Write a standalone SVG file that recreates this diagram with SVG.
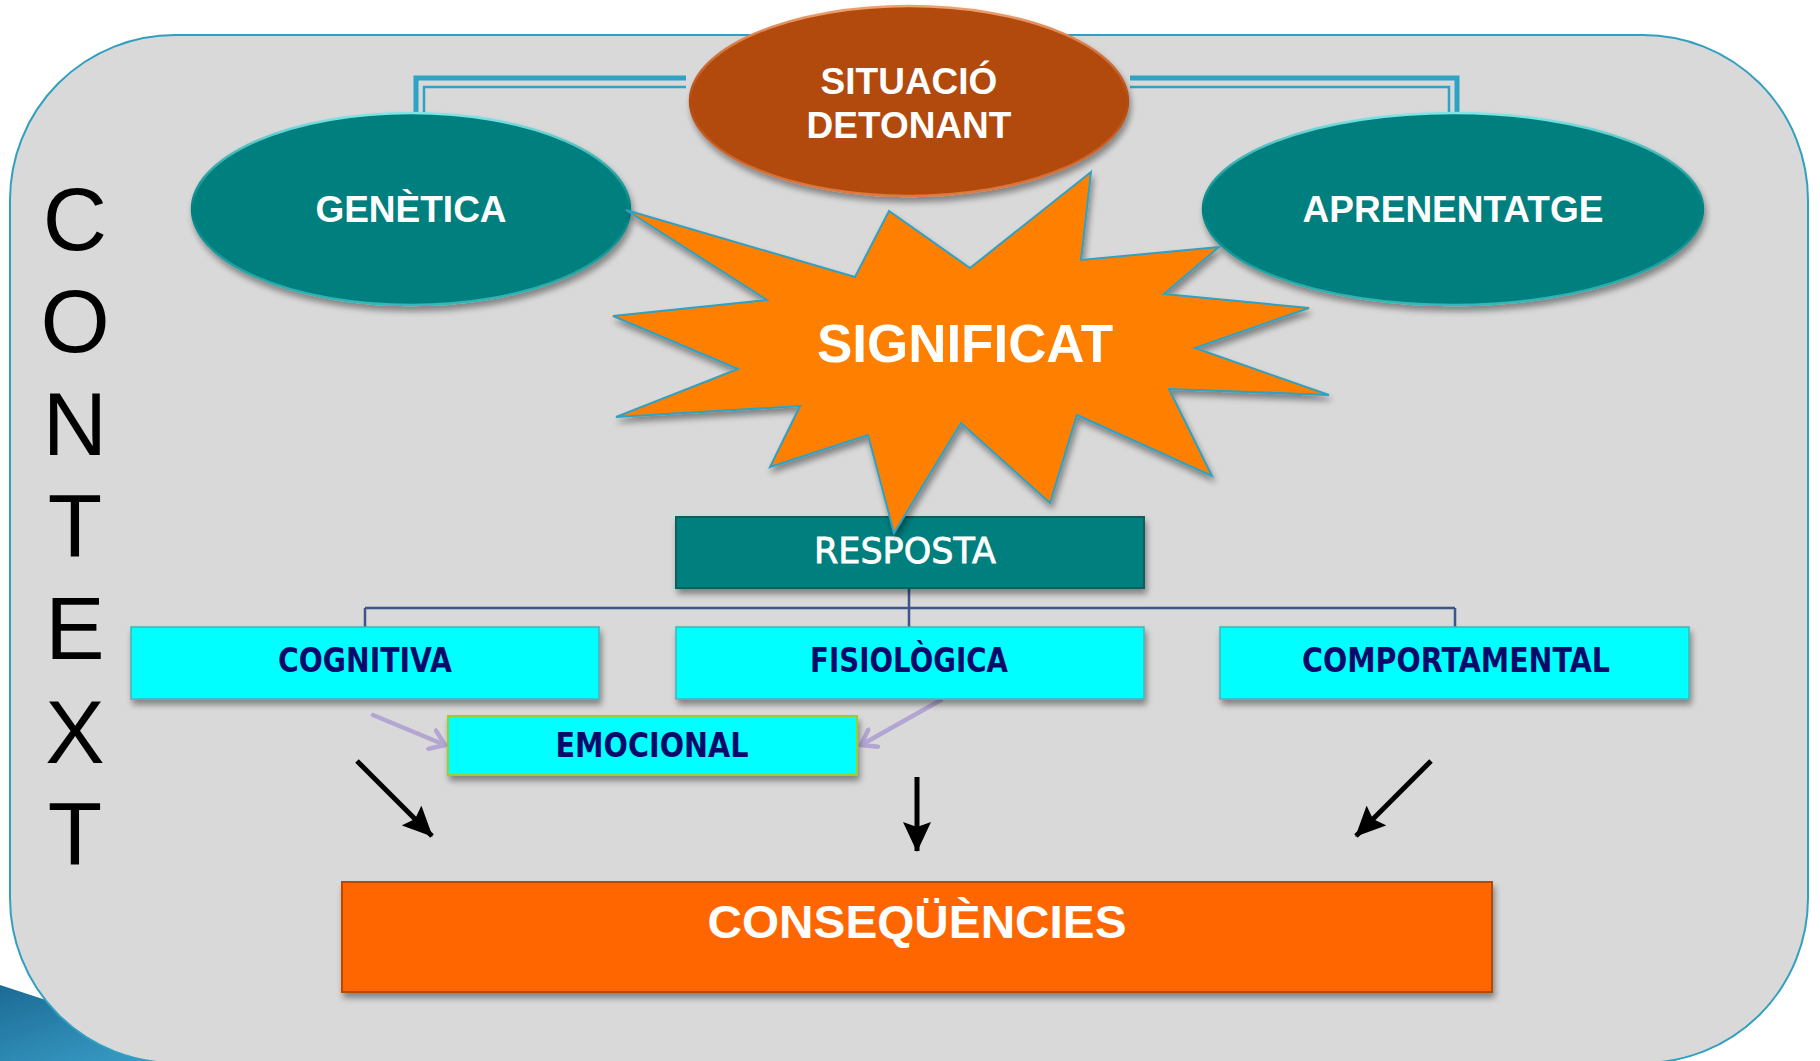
<svg xmlns="http://www.w3.org/2000/svg" width="1820" height="1061" viewBox="0 0 1820 1061">
<defs>
<style>
.ctx{font-family:"Liberation Sans",Arial,sans-serif;font-size:89px;fill:#000;text-anchor:middle}
.ell{font-family:"Liberation Sans",Arial,sans-serif;font-weight:bold;font-size:37px;fill:#fff;text-anchor:middle}
.box{font-family:"DejaVu Sans",sans-serif;font-weight:bold;font-size:33px;fill:#0a0a6b;text-anchor:middle}
.cyan{fill:#00ffff;stroke:#4ab0b8;stroke-width:1.5}
.dbl{fill:none;stroke:#2fa3c4;stroke-linejoin:miter}
.tree{fill:none;stroke:#3b5688;stroke-width:2.5}
.blk{stroke:#000;stroke-width:5;fill:none}
.lav{stroke:#b3a6d3;stroke-width:4.5;fill:none;stroke-linecap:round}
</style>
<filter id="sh" x="-10%" y="-15%" width="125%" height="145%">
<feGaussianBlur in="SourceAlpha" stdDeviation="3"/>
<feOffset dx="2" dy="5" result="o"/>
<feComponentTransfer><feFuncA type="linear" slope="0.4"/></feComponentTransfer>
<feMerge><feMergeNode/><feMergeNode in="SourceGraphic"/></feMerge>
</filter>
<linearGradient id="rimT" x1="0" y1="0" x2="0" y2="1">
<stop offset="0" stop-color="#7fe6e6"/><stop offset="0.5" stop-color="#007f7f"/><stop offset="1" stop-color="#35b8b8"/>
</linearGradient>
<linearGradient id="rimB" x1="0" y1="0" x2="0" y2="1">
<stop offset="0" stop-color="#f0a070"/><stop offset="0.5" stop-color="#b24a10"/><stop offset="1" stop-color="#e07a40"/>
</linearGradient>
<linearGradient id="deco" x1="0" y1="0" x2="1" y2="1">
<stop offset="0" stop-color="#1b6b95"/><stop offset="1" stop-color="#3fa6cf"/>
</linearGradient>
<marker id="ah" markerUnits="userSpaceOnUse" markerWidth="30" markerHeight="28" viewBox="0 0 30 28" refX="29" refY="14" orient="auto">
<path d="M0,0 L30,14 L0,28 L5,14 Z" fill="#000"/>
</marker>
<marker id="ahl" markerUnits="userSpaceOnUse" markerWidth="20" markerHeight="24" viewBox="0 0 20 24" refX="16" refY="12" orient="auto">
<path d="M2,2 L16,12 L2,22" fill="none" stroke="#b3a6d3" stroke-width="4.5" stroke-linecap="round" stroke-linejoin="round"/>
</marker>
</defs>

<rect x="0" y="0" width="1820" height="1061" fill="#ffffff"/>
<path d="M0,985 L55,1003 L230,1061 L0,1061 Z" fill="url(#deco)"/>
<rect id="context-frame" x="10" y="35" width="1798" height="1028" rx="165" ry="165" fill="#d9d9d9" stroke="#31a0c0" stroke-width="2"/>

<g id="context-label">
<text class="ctx" x="75" y="250">C</text>
<text class="ctx" x="75" y="352">O</text>
<text class="ctx" x="75" y="455">N</text>
<text class="ctx" x="75" y="557">T</text>
<text class="ctx" x="75" y="659">E</text>
<text class="ctx" x="75" y="763">X</text>
<text class="ctx" x="75" y="865">T</text>
</g>

<g id="connectors">
<path class="dbl" stroke-width="5" d="M686,78 L416,78 L416,140"/>
<path class="dbl" stroke-width="2.5" d="M686,87 L424,87 L424,140"/>
<path class="dbl" stroke-width="5" d="M1130,78 L1457,78 L1457,140"/>
<path class="dbl" stroke-width="2.5" d="M1130,87 L1449,87 L1449,140"/>
<path class="tree" d="M909,588 L909,627 M365,608 L1455,608 M365,608 L365,627 M1455,608 L1455,627"/>
<path class="lav" d="M373,715 L445,745" marker-end="url(#ahl)"/>
<path class="lav" d="M941,700 L861,745" marker-end="url(#ahl)"/>
<path class="blk" d="M357,761 L432,836" marker-end="url(#ah)"/>
<path class="blk" d="M917,777 L917,851" marker-end="url(#ah)"/>
<path class="blk" d="M1431,761 L1356,836" marker-end="url(#ah)"/>
</g>

<g id="genetica">
<ellipse cx="411" cy="209" rx="219" ry="96" fill="#007f7f" stroke="url(#rimT)" stroke-width="2.5" filter="url(#sh)"/>
<text class="ell" x="411" y="222">GENÈTICA</text>
</g>

<g id="aprenentatge">
<ellipse cx="1453" cy="209" rx="250" ry="96" fill="#007f7f" stroke="url(#rimT)" stroke-width="2.5" filter="url(#sh)"/>
<text class="ell" x="1453" y="222">APRENENTATGE</text>
</g>

<g id="situacio-detonant">
<ellipse cx="909" cy="101" rx="219" ry="95" fill="#b24a10" stroke="url(#rimB)" stroke-width="2.5" filter="url(#sh)"/>
<text class="ell" x="909" y="94">SITUACIÓ</text>
<text class="ell" x="909" y="138">DETONANT</text>
</g>

<g id="resposta">
<rect x="676" y="517" width="468" height="71" fill="#007f7f" stroke="#0a5e5e" stroke-width="2" filter="url(#sh)"/>
<text x="905" y="563" style="font-family:'DejaVu Sans',sans-serif;font-size:36px;fill:#ffffff;stroke:#ffffff;stroke-width:0.8;text-anchor:middle" textLength="182" lengthAdjust="spacingAndGlyphs">RESPOSTA</text>
</g>

<g id="significat">
<polygon points="626,210 855,277 889,211 970,268 1091,172 1081,260 1219,247 1164,294 1309,308 1195,348 1329,395 1169,389 1212,476 1077,415 1050,503 961,423 894,533 868,435 770,467 800,406 616,417 738,369 613,316 767,300" fill="#ff8000" stroke="#31a0c0" stroke-width="2" stroke-linejoin="miter" filter="url(#sh)"/>
<text class="ell" x="965" y="362" style="font-size:53px" textLength="296" lengthAdjust="spacingAndGlyphs">SIGNIFICAT</text>
</g>

<g id="cognitiva">
<rect class="cyan" x="131" y="627" width="468" height="72" filter="url(#sh)"/>
<text class="box" x="365" y="672" textLength="174" lengthAdjust="spacingAndGlyphs">COGNITIVA</text>
</g>

<g id="fisiologica">
<rect class="cyan" x="676" y="627" width="468" height="72" filter="url(#sh)"/>
<text class="box" x="909" y="672" textLength="198" lengthAdjust="spacingAndGlyphs">FISIOLÒGICA</text>
</g>

<g id="comportamental">
<rect class="cyan" x="1220" y="627" width="469" height="72" filter="url(#sh)"/>
<text class="box" x="1456" y="672" textLength="308" lengthAdjust="spacingAndGlyphs">COMPORTAMENTAL</text>
</g>

<g id="emocional">
<rect x="448" y="716" width="409" height="59" fill="#00ffff" stroke="#9acd32" stroke-width="2" filter="url(#sh)"/>
<text class="box" x="652" y="757" textLength="193" lengthAdjust="spacingAndGlyphs">EMOCIONAL</text>
</g>

<g id="consequencies">
<rect x="342" y="882" width="1150" height="110" fill="#ff6600" stroke="#b84a00" stroke-width="2" filter="url(#sh)"/>
<text class="ell" x="917" y="938" style="font-size:46px" textLength="419" lengthAdjust="spacingAndGlyphs">CONSEQÜÈNCIES</text>
</g>
</svg>
